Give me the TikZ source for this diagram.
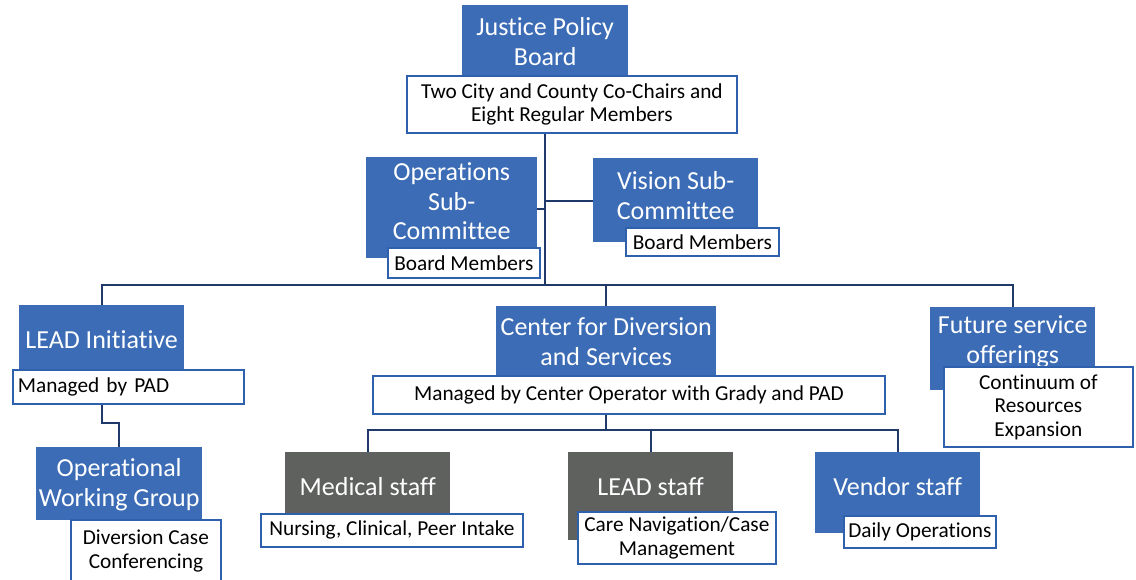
\documentclass[tikz,border=0pt]{standalone}
\usepackage{tikz}
\usepackage{xcolor}
\usepackage{fontspec}
\setmainfont{Carlito}[Ligatures=NoCommon]
\definecolor{jpblue}{HTML}{3B6CB5}
\definecolor{jpgray}{HTML}{5F615F}
\definecolor{jpedge}{HTML}{2E60AE}
\definecolor{jpline}{HTML}{1F3A6A}

\begin{document}
\begin{tikzpicture}[x=1pt, y=-1pt,
		onebox/.style={fill=jpblue, text=white, font=\fontsize{26}{29.5}\selectfont, inner sep=0pt, anchor=north west, text height=43.4pt},
		titlebox/.style={fill=jpblue, text=white, font=\fontsize{26}{29.5}\selectfont, align=center, inner sep=0pt, anchor=north west},
		staffbox/.style={onebox, fill=jpgray},
		notebox/.style={draw=jpedge, line width=1.8pt, fill=white, text=black, font=\fontsize{21.3}{23.5}\selectfont, align=center, inner sep=0pt, anchor=north west},
		link/.style={color=jpline, line width=1.8pt}]
		\useasboundingbox (0,0) rectangle (1136,579);
		% board and committees
		\node[titlebox, minimum width=166pt, text height=59.9pt, text depth=10.1pt] (jpb) at (462,5) {Justice Policy\\Board};
		\node[notebox, minimum width=330pt, minimum height=57pt] (jpbsub) at (406,75) {Two City and County Co-Chairs and\\Eight Regular Members};
		\node[titlebox, minimum width=171pt, text height=82.4pt, text depth=18.6pt] (ops) at (366,157) {Operations\\Sub-\\Committee};
		\node[notebox, minimum width=152pt, minimum height=30pt] (opssub) at (387,247) {Board Members};
		\node[titlebox, minimum width=165pt, text height=60.9pt, text depth=23.1pt] (vis) at (593,158) {Vision Sub-\\Committee};
		\node[notebox, minimum width=153pt, minimum height=28pt] (vissub) at (625,227) {Board Members};
		% programs
		\node[onebox, minimum width=165pt, text depth=28.6pt] (lead) at (19,305) {LEAD Initiative};
		\node[notebox, align=left, text width=221pt, inner xsep=5pt, minimum height=34pt] (leadsub) at (12,369) {Managed by PAD};
		\node[titlebox, minimum width=166pt, text height=58.9pt, text depth=14.1pt] (owg) at (36,447) {Operational\\Working Group};
		\node[notebox, minimum width=150pt, minimum height=62pt] (owgsub) at (70,519) {Diversion Case\\Conferencing};
		\node[titlebox, minimum width=220pt, text height=58.9pt, text depth=12.1pt] (cent) at (496,306) {Center for Diversion\\and Services};
		\node[notebox, minimum width=512pt, minimum height=38pt] (centsub) at (372,375) {Managed by Center Operator with Grady and PAD};
		\node[titlebox, minimum width=165pt, text height=55.9pt, text depth=27.1pt] (fut) at (930,307) {Future service\\offerings};
		\node[notebox, minimum width=189pt, minimum height=80pt] (futsub) at (943,366) {Continuum of\\Resources\\Expansion};
		% staff
		\node[staffbox, minimum width=165pt, text depth=24.6pt] (med) at (285,452) {Medical staff};
		\node[notebox, minimum width=262pt, minimum height=33pt] (medsub) at (260,513) {Nursing, Clinical, Peer Intake};
		\node[staffbox, minimum width=165pt, text depth=44.6pt] (lstaff) at (568,452) {LEAD staff};
		\node[notebox, minimum width=198pt, minimum height=52pt] (lstaffsub) at (577,511) {Care Navigation/Case\\Management};
		\node[onebox, minimum width=165pt, text depth=37.6pt] (ven) at (815,452) {Vendor staff};
		\node[notebox, minimum width=152pt, minimum height=32pt] (vensub) at (843,515) {Daily Operations};
		% connectors
		\coordinate (bar) at (545,285);
		\coordinate (opsjoin) at (545,209);
		\coordinate (visjoin) at (545,201);
		\coordinate (elbow) at (110,423);
		\coordinate (staffbar) at (607,430);
		\draw[link] (jpbsub.south -| bar) -- (bar);
		\draw[link] (ops.east |- opsjoin) -- (opsjoin);
		\draw[link] (visjoin) -- (vis.west |- visjoin);
		\draw[link] (lead.north) -- (lead.north |- bar) -- (fut.north |- bar) -- (fut.north);
		\draw[link] (cent.north) -- (cent.north |- bar);
		\draw[link] (lead.south |- leadsub.south) -- (lead.south |- elbow) -| (owg.north);
		\draw[link] (cent.south |- centsub.south) -- (cent.south |- staffbar);
		\draw[link] (med.north) -- (med.north |- staffbar) -- (ven.north |- staffbar) -- (ven.north);
		\draw[link] (lstaff.north) -- (lstaff.north |- staffbar);
	\end{tikzpicture}
\end{document}
